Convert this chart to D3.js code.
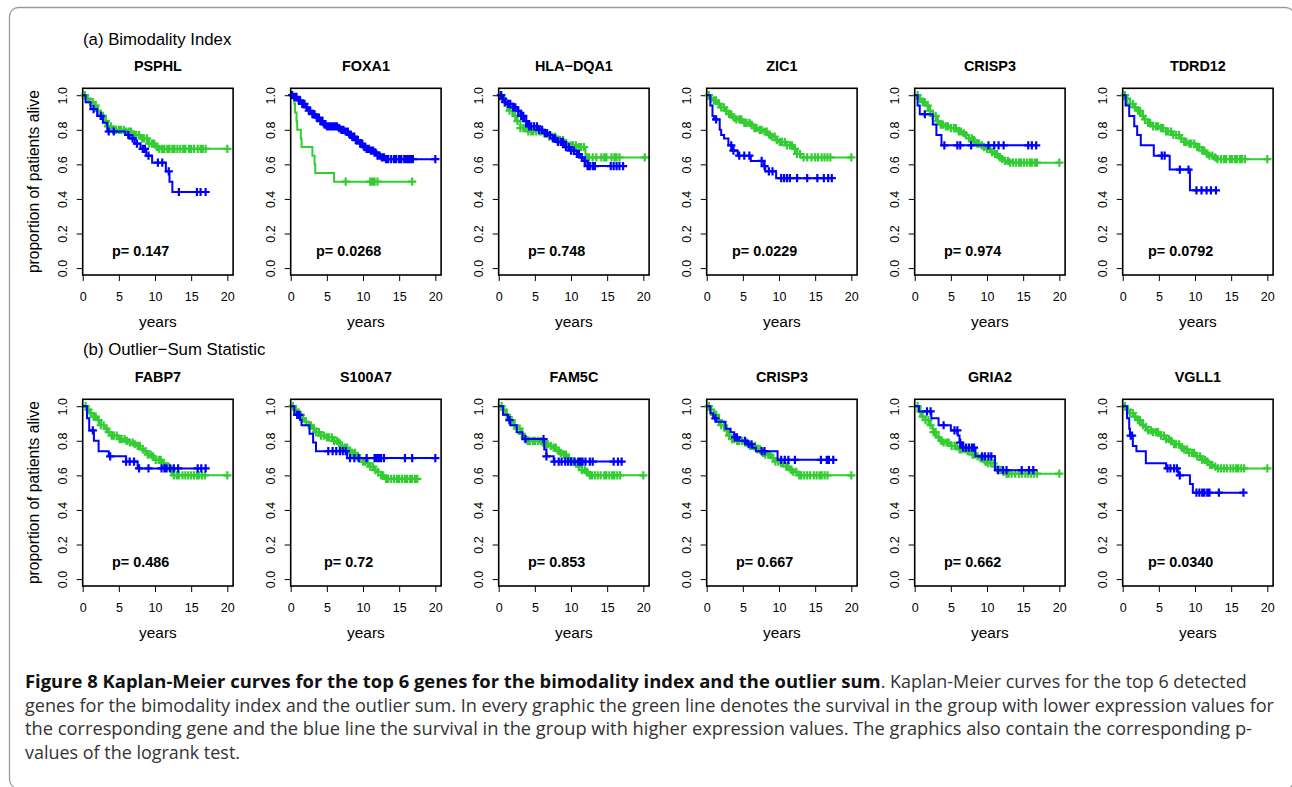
<!DOCTYPE html>
<html>
<head>
<meta charset="utf-8">
<script src="https://cdn.jsdelivr.net/npm/d3@7"></script>
<style>
  body { margin: 0; background: #fff; }
  svg text { font-family: "Liberation Sans", Arial, Helvetica, sans-serif; }
  .caption { font-family: "Open Sans", "Noto Sans", sans-serif !important; }
</style>
</head>
<body>
<div id="chart"></div>
<script>
// ---- labels ----
const genesA = ["PSPHL", "FOXA1", "HLA\u2212DQA1", "ZIC1", "CRISP3", "TDRD12"];
const genesB = ["FABP7", "S100A7", "FAM5C", "CRISP3", "GRIA2", "VGLL1"];
const pvalsA = ["0.147", "0.0268", "0.748", "0.0229", "0.974", "0.0792"];
const pvalsB = ["0.486", "0.72", "0.853", "0.667", "0.662", "0.0340"];
const xTicks = [0, 5, 10, 15, 20];
const yTicks = [0, 0.2, 0.4, 0.6, 0.8, 1.0];

// ---- survival curves: steps = [time, survival after drop], cens = censoring times ----
// green = low expression group, blue = high expression group
const psphlLow = {
  steps: [[0.5,0.98],[1,0.96],[1.5,0.94],[2,0.91],[2.5,0.88],[3,0.85],[3.5,0.82],[4,0.80],[6,0.79],[7,0.77],[8,0.75],[9,0.72],[10,0.70],[10.5,0.69]],
  cens: [0.3,0.7,1.0,1.4,1.8,2.1,2.5,2.8,3.2,3.5,3.9,4.2,4.6,5.0,5.3,5.7,6.0,6.4,6.7,7.1,7.4,7.8,8.2,8.5,8.9,9.2,9.6,9.9,10.3,10.6,11.0,11.3,11.7,12.0,12.4,12.7,13.1,13.5,13.9,14.2,14.7,15.0,15.4,15.9,16.3,16.6,17.0,20.0]
};
const psphlHigh = {
  steps: [[0.4,0.96],[1.1,0.92],[2.0,0.88],[2.8,0.84],[3.4,0.79],[5.9,0.77],[6.5,0.75],[7.2,0.72],[8.0,0.69],[8.8,0.65],[9.6,0.61],[11.5,0.56],[12.0,0.50],[12.4,0.44]],
  cens: [1.5,2.5,3.6,4.3,6.3,6.9,7.5,8.3,8.6,9.1,10.4,11.0,11.9,13.3,15.8,16.3,17.0]
};
const foxa1Low = {
  steps: [[0.5,0.95],[0.6,0.90],[0.8,0.85],[0.9,0.80],[1.4,0.75],[1.5,0.70],[3.0,0.65],[3.3,0.60],[3.4,0.55],[6.0,0.50]],
  cens: [7.6,11.0,11.3,11.6,12.0,16.8]
};
const foxa1High = {
  steps: [[0.5,0.99],[1,0.97],[1.5,0.95],[2,0.93],[2.5,0.91],[3,0.89],[3.5,0.87],[4,0.85],[4.5,0.83],[5,0.82],[6.5,0.81],[7,0.80],[7.5,0.79],[8,0.77],[8.5,0.76],[9,0.74],[9.5,0.72],[10,0.70],[10.5,0.69],[11,0.68],[11.5,0.67],[12,0.65],[12.5,0.64],[13,0.63]],
  cens: [0.2,0.5,0.8,1.1,1.3,1.6,1.9,2.2,2.5,2.7,3.0,3.3,3.6,3.9,4.1,4.4,4.7,5.0,5.3,5.6,5.9,6.2,6.4,6.7,7.0,7.3,7.6,7.9,8.2,8.5,8.8,9.0,9.3,9.6,9.9,10.2,10.5,10.8,11.1,11.4,11.7,12.0,12.3,12.6,12.9,13.2,13.5,13.9,14.3,14.6,15.0,15.3,15.7,16.0,16.3,16.6,16.9,20.0]
};
const hlaLow = {
  steps: [[0.5,0.97],[1,0.94],[1.5,0.91],[2,0.88],[2.5,0.85],[3,0.81],[4,0.79],[6,0.78],[7,0.76],[8,0.74],[9,0.72],[9.5,0.71],[11,0.70],[12,0.64]],
  cens: [0.4,0.8,1.2,1.5,1.9,2.3,2.6,3.0,3.4,3.7,4.1,4.5,4.8,5.2,5.6,5.9,6.3,6.7,7.0,7.4,7.8,8.1,8.5,8.9,9.2,9.6,10.0,10.3,10.7,11.1,11.4,11.8,12.2,12.5,13.0,13.5,14.2,14.6,14.9,15.6,16.0,16.3,16.7,20.2]
};
const hlaHigh = {
  steps: [[0.4,0.98],[0.8,0.96],[1.2,0.95],[2,0.93],[2.6,0.91],[3,0.88],[3.5,0.85],[4,0.82],[5.5,0.80],[6.2,0.78],[6.8,0.77],[7.5,0.75],[8,0.73],[9,0.70],[10,0.68],[10.8,0.66],[11.2,0.64],[11.6,0.62],[12,0.59]],
  cens: [0.3,0.6,0.9,1.3,1.6,2.0,2.3,2.7,3.1,3.4,3.8,4.2,4.5,4.9,5.3,5.6,6.0,6.4,6.7,7.1,7.5,7.8,8.2,8.6,8.9,9.3,9.7,10.0,10.4,10.8,11.1,11.5,11.9,12.3,12.6,13.0,13.3,15.5,15.9,16.3,16.7,17.2]
};
const zic1Low = {
  steps: [[0.5,0.98],[1,0.97],[1.5,0.95],[2,0.93],[2.5,0.91],[3,0.89],[3.5,0.87],[4,0.86],[5,0.84],[6,0.83],[6.5,0.81],[7,0.80],[8,0.79],[8.5,0.77],[9,0.76],[9.5,0.74],[10,0.73],[11,0.71],[12,0.69],[12.5,0.66],[13,0.64]],
  cens: [0.3,0.6,1.0,1.3,1.7,2.0,2.4,2.7,3.1,3.4,3.8,4.1,4.5,4.8,5.2,5.5,5.9,6.2,6.6,6.9,7.3,7.6,8.0,8.3,8.7,9.0,9.4,9.7,10.1,10.4,10.8,11.1,11.5,11.8,12.2,12.5,12.9,13.4,13.9,14.5,15.0,15.4,15.9,16.3,16.7,17.1,20.0]
};
const zic1High = {
  steps: [[0.5,0.94],[0.8,0.88],[1.0,0.86],[1.8,0.80],[2.0,0.77],[2.4,0.75],[3.0,0.71],[3.5,0.68],[4.3,0.65],[6.1,0.62],[7.9,0.59],[8.1,0.56],[9.6,0.52]],
  cens: [1.3,3.4,3.7,4.5,5.2,5.9,7.6,8.0,8.6,9.1,10.3,10.7,11.1,11.5,12.5,13.9,15.3,16.2,16.8,17.3]
};
const crisp3aLow = {
  steps: [[0.5,0.98],[1,0.96],[1.5,0.94],[2,0.91],[2.5,0.88],[3,0.85],[3.5,0.83],[4,0.82],[5,0.81],[6,0.79],[6.5,0.78],[7,0.77],[7.5,0.75],[8,0.74],[8.5,0.72],[9,0.71],[9.5,0.70],[10,0.69],[10.5,0.67],[11,0.66],[11.5,0.64],[12,0.63],[12.5,0.62],[13,0.61]],
  cens: [0.4,0.7,1.1,1.4,1.8,2.1,2.5,2.9,3.2,3.6,3.9,4.3,4.6,5.0,5.4,5.7,6.1,6.4,6.8,7.1,7.5,7.9,8.2,8.6,8.9,9.3,9.6,10.0,10.4,10.7,11.1,11.4,11.8,12.1,12.5,12.9,13.2,13.6,14.0,14.4,14.7,15.1,15.5,15.9,16.2,16.6,16.9,20.0]
};
const crisp3aHigh = {
  steps: [[0.4,0.94],[0.7,0.89],[2.5,0.83],[3.0,0.77],[3.7,0.71]],
  cens: [1.4,4.1,5.9,6.3,7.8,10.2,11.0,11.6,12.3,15.7,16.2,16.8]
};
const tdrd12Low = {
  steps: [[0.5,0.98],[1,0.95],[1.5,0.93],[2,0.91],[2.5,0.88],[3,0.86],[3.5,0.84],[4,0.82],[5,0.81],[6,0.79],[7,0.77],[8,0.75],[8.5,0.73],[9,0.72],[10,0.70],[11,0.68],[11.5,0.66],[12,0.65],[12.5,0.64],[13,0.63]],
  cens: [0.3,0.6,1.0,1.4,1.7,2.1,2.4,2.8,3.1,3.5,3.8,4.2,4.6,4.9,5.3,5.6,6.0,6.3,6.7,7.0,7.4,7.8,8.1,8.5,8.8,9.2,9.5,9.9,10.3,10.6,11.0,11.3,11.7,12.0,12.4,12.8,13.1,13.6,14.0,14.3,14.8,15.1,15.5,15.8,16.2,16.5,16.9,20.0]
};
const tdrd12High = {
  steps: [[0.4,0.94],[0.9,0.88],[1.6,0.82],[2.0,0.77],[2.5,0.71],[4.3,0.65],[6.5,0.57],[9.3,0.45]],
  cens: [5.4,5.8,7.9,9.1,10.2,10.9,11.6,12.2,12.9]
};
const fabp7Low = {
  steps: [[0.5,0.98],[1,0.96],[1.5,0.94],[2,0.92],[2.5,0.89],[3,0.87],[3.5,0.85],[4,0.83],[5,0.81],[6,0.80],[6.5,0.79],[7,0.78],[7.5,0.77],[8,0.75],[8.5,0.74],[9,0.72],[9.5,0.71],[10,0.69],[11,0.67],[11.5,0.65],[12,0.63],[12.5,0.60]],
  cens: [0.4,0.8,1.1,1.5,1.8,2.2,2.5,2.9,3.3,3.6,4.0,4.3,4.7,5.1,5.4,5.8,6.1,6.5,6.9,7.2,7.6,7.9,8.3,8.7,9.0,9.4,9.7,10.1,10.5,10.8,11.2,11.5,11.9,12.3,12.6,13.0,13.3,13.8,14.2,14.6,15.0,15.4,15.8,16.1,16.5,16.9,20.0]
};
const fabp7High = {
  steps: [[0.6,0.93],[0.9,0.86],[1.55,0.80],[2.2,0.74],[3.6,0.71],[6.0,0.68],[7.6,0.64]],
  cens: [1.4,3.8,6.0,6.5,7.1,7.8,9.1,10.9,11.3,11.6,12.1,12.6,13.2,15.9,16.4,17.0]
};
const s100a7Low = {
  steps: [[0.5,0.98],[1,0.95],[1.5,0.93],[2,0.91],[2.5,0.89],[3,0.87],[3.5,0.85],[4,0.83],[5,0.82],[6,0.80],[6.5,0.79],[7,0.77],[7.5,0.76],[8,0.74],[8.5,0.73],[9,0.71],[9.5,0.70],[10,0.68],[10.5,0.67],[11,0.65],[11.5,0.63],[12,0.62],[12.5,0.60],[13,0.58]],
  cens: [0.3,0.7,1.0,1.4,1.7,2.1,2.5,2.8,3.2,3.5,3.9,4.2,4.6,5.0,5.3,5.7,6.0,6.4,6.7,7.1,7.5,7.8,8.2,8.5,8.9,9.2,9.6,10.0,10.3,10.7,11.0,11.4,11.7,12.1,12.5,12.8,13.2,13.5,13.9,14.3,14.7,15.0,15.4,15.8,16.1,16.5,16.8,17.2,17.5]
};
const s100a7High = {
  steps: [[0.5,0.95],[1.3,0.92],[1.5,0.89],[2.6,0.84],[3.1,0.79],[3.5,0.74],[7.8,0.70]],
  cens: [0.9,1.2,5.2,5.8,6.3,6.8,7.2,7.6,8.2,8.8,9.4,10.5,11.6,11.9,12.2,12.5,12.9,15.8,16.8,20.0]
};
const fam5cLow = {
  steps: [[0.5,0.98],[1,0.95],[1.5,0.92],[2,0.89],[2.5,0.87],[3,0.84],[3.5,0.82],[4,0.80],[6,0.79],[6.5,0.78],[7,0.77],[7.5,0.76],[8,0.74],[8.5,0.73],[9,0.72],[9.5,0.70],[10,0.68],[10.5,0.67],[11,0.65],[11.5,0.63],[12,0.62],[12.5,0.60]],
  cens: [0.4,0.7,1.1,1.5,1.8,2.2,2.5,2.9,3.2,3.6,4.0,4.3,4.7,5.0,5.4,5.8,6.1,6.5,6.8,7.2,7.6,7.9,8.3,8.6,9.0,9.3,9.7,10.1,10.4,10.8,11.1,11.5,11.9,12.2,12.6,12.9,13.3,13.7,14.1,14.6,14.9,15.3,15.7,16.0,16.4,16.8,20.0]
};
const fam5cHigh = {
  steps: [[0.6,0.95],[1.3,0.92],[1.6,0.89],[2.5,0.85],[3.3,0.81],[6.3,0.75],[6.6,0.71],[7.6,0.68]],
  cens: [1.5,3.7,6.2,6.6,7.7,8.3,8.7,9.2,9.6,10.0,10.5,11.0,11.3,11.6,12.0,12.6,13.0,15.9,16.5,17.0]
};
const crisp3bLow = {
  steps: [[0.5,0.98],[1,0.95],[1.5,0.92],[2,0.89],[2.5,0.86],[3,0.83],[3.5,0.81],[4,0.80],[5,0.79],[6,0.77],[7,0.75],[7.5,0.73],[8,0.72],[9,0.70],[9.5,0.68],[10,0.67],[11,0.65],[11.5,0.63],[12,0.62],[12.5,0.60]],
  cens: [0.3,0.6,1.0,1.3,1.7,2.0,2.4,2.8,3.1,3.5,3.8,4.2,4.5,4.9,5.3,5.6,6.0,6.3,6.7,7.0,7.4,7.8,8.1,8.5,8.8,9.2,9.5,9.9,10.3,10.6,11.0,11.3,11.7,12.0,12.4,12.8,13.1,13.5,13.9,14.3,14.8,15.2,15.6,15.9,16.3,16.7,20.0]
};
const crisp3bHigh = {
  steps: [[0.5,0.96],[0.9,0.93],[1.3,0.91],[2.6,0.87],[3.3,0.85],[3.8,0.82],[4.5,0.80],[5.5,0.78],[6.3,0.76],[6.8,0.74],[9.8,0.69]],
  cens: [1.2,3.9,4.2,5.3,5.8,6.2,7.6,8.0,10.3,10.8,11.3,12.2,15.8,16.6,16.9,17.5]
};
const gria2Low = {
  steps: [[0.5,0.97],[1,0.94],[1.5,0.92],[2,0.89],[2.5,0.85],[3,0.82],[3.5,0.80],[4,0.79],[5,0.77],[6,0.75],[7,0.74],[8,0.72],[8.5,0.71],[9,0.70],[9.5,0.68],[10,0.67],[11,0.65],[11.5,0.63],[12,0.62],[12.5,0.61]],
  cens: [0.4,0.8,1.1,1.5,1.9,2.2,2.6,2.9,3.3,3.7,4.0,4.4,4.7,5.1,5.5,5.8,6.2,6.5,6.9,7.3,7.6,8.0,8.3,8.7,9.1,9.4,9.8,10.1,10.5,10.9,11.2,11.6,11.9,12.3,12.7,13.0,13.4,13.9,14.4,14.8,15.3,15.7,16.1,16.5,16.9,20.0]
};
const gria2High = {
  steps: [[0.6,0.97],[2.3,0.93],[3.3,0.89],[5.0,0.86],[5.95,0.83],[6.2,0.79],[6.5,0.76],[8.4,0.71],[11.1,0.63]],
  cens: [1.7,2.2,4.0,5.5,5.9,6.3,6.7,7.1,7.5,7.9,8.2,9.3,9.7,10.2,10.6,11.5,12.2,12.7,14.8,15.8,16.4]
};
const vgll1Low = {
  steps: [[0.5,0.98],[1,0.96],[1.5,0.94],[2,0.92],[2.5,0.89],[3,0.88],[3.5,0.86],[4,0.85],[5,0.83],[6,0.81],[6.5,0.80],[7,0.78],[8,0.76],[8.5,0.75],[9,0.73],[10,0.71],[11,0.69],[11.5,0.68],[12,0.66],[12.5,0.65],[13,0.64]],
  cens: [0.3,0.7,1.0,1.4,1.7,2.1,2.4,2.8,3.2,3.5,3.9,4.2,4.6,4.9,5.3,5.7,6.0,6.4,6.7,7.1,7.4,7.8,8.2,8.5,8.9,9.2,9.6,9.9,10.3,10.7,11.0,11.4,11.7,12.1,12.4,12.8,13.2,13.6,14.0,14.4,14.9,15.3,15.7,16.0,16.4,16.8,20.0]
};
const vgll1High = {
  steps: [[0.6,0.93],[0.9,0.87],[1.0,0.83],[1.4,0.77],[1.9,0.74],[3.2,0.67],[6.0,0.64],[7.7,0.60],[9.3,0.55],[9.7,0.50]],
  cens: [1.1,1.3,6.2,6.6,7.1,7.5,7.9,10.2,10.6,11.0,11.3,11.7,12.0,13.3,16.7]
};

const lowA = [psphlLow, foxa1Low, hlaLow, zic1Low, crisp3aLow, tdrd12Low];
const highA = [psphlHigh, foxa1High, hlaHigh, zic1High, crisp3aHigh, tdrd12High];
const lowB = [fabp7Low, s100a7Low, fam5cLow, crisp3bLow, gria2Low, vgll1Low];
const highB = [fabp7High, s100a7High, fam5cHigh, crisp3bHigh, gria2High, vgll1High];

const captionLines = [
  "genes for the bimodality index and the outlier sum. In every graphic the green line denotes the survival in the group with lower expression values for",
  "the corresponding gene and the blue line the survival in the group with higher expression values. The graphics also contain the corresponding p-",
  "values of the logrank test."
];

// ---- layout ----
const W = 1292, H = 787;
const boxW = 150.4, boxH = 186.7;
const colLeft = i => 82.7 + 208 * i;
const rowTop = [88.3, 399.3];
const GREEN = "#32cd32", BLUE = "#0000ff";

const svg = d3.select("#chart").append("svg")
  .attr("width", W).attr("height", H);

// figure frame
svg.append("rect")
  .attr("x", 9.5).attr("y", 7.5)
  .attr("width", 1285).attr("height", 781)
  .attr("rx", 9)
  .attr("fill", "none").attr("stroke", "#9a9a9a").attr("stroke-width", 1.3);

const x = d3.scaleLinear().domain([0, 20.8]).range([0, boxW]);
const y = d3.scaleLinear().domain([-0.04, 1.04]).range([boxH, 0]);

function survAt(curve, t) {
  let s = 1;
  curve.steps.forEach(d => { if (d[0] <= t) s = d[1]; });
  return s;
}

function drawCurve(g, curve, color) {
  const end = Math.max(d3.max(curve.cens), curve.steps[curve.steps.length - 1][0]);
  const pts = [[0, 1], ...curve.steps, [end, curve.steps[curve.steps.length - 1][1]]];
  g.append("path")
    .attr("d", d3.line().x(d => x(d[0])).y(d => y(d[1])).curve(d3.curveStepAfter)(pts))
    .attr("fill", "none").attr("stroke", color).attr("stroke-width", 2);
  const h = 4.1;
  g.append("path")
    .attr("d", curve.cens.map(c => {
      const cx = x(c), cy = y(survAt(curve, c));
      return `M${cx - h},${cy}h${2 * h}M${cx},${cy - h}v${2 * h}`;
    }).join(""))
    .attr("fill", "none").attr("stroke", color).attr("stroke-width", 2.2);
}

function drawPanel(col, row, gene, p, low, high) {
  const g = svg.append("g")
    .attr("transform", `translate(${colLeft(col)},${rowTop[row]})`);

  const ax = g.append("g").attr("transform", `translate(0,${boxH})`)
    .call(d3.axisBottom(x).tickValues(xTicks).tickSize(6).tickFormat(d3.format("d")));
  ax.select(".domain").remove();
  ax.selectAll("text").attr("y", 25.5).attr("dy", null)
    .attr("font-size", "12.5px").attr("fill", "#000");

  const ay = g.append("g")
    .call(d3.axisLeft(y).tickValues(yTicks).tickSize(6).tickFormat(d3.format(".1f")));
  ay.select(".domain").remove();
  ay.selectAll("text")
    .attr("transform", "rotate(-90)")
    .attr("x", 0).attr("y", -16).attr("dy", null)
    .attr("text-anchor", "middle")
    .attr("font-size", "12.5px").attr("fill", "#000");

  drawCurve(g, low, GREEN);
  drawCurve(g, high, BLUE);

  g.append("rect")
    .attr("width", boxW).attr("height", boxH)
    .attr("fill", "none").attr("stroke", "#000").attr("stroke-width", 1.6);

  g.append("text")
    .attr("x", boxW / 2).attr("y", -17)
    .attr("text-anchor", "middle")
    .attr("font-size", "14.4px").attr("font-weight", "bold")
    .text(gene);

  g.append("text")
    .attr("x", x(8)).attr("y", y(0.1) + 5.2)
    .attr("text-anchor", "middle")
    .attr("font-size", "14.4px").attr("font-weight", "bold")
    .text("p= " + p);

  g.append("text")
    .attr("x", boxW / 2).attr("y", boxH + 52)
    .attr("text-anchor", "middle")
    .attr("font-size", "15.4px")
    .text("years");

  if (col === 0) {
    g.append("text")
      .attr("transform", `translate(-43.2,${boxH / 2}) rotate(-90)`)
      .attr("text-anchor", "middle")
      .attr("font-size", "15.6px")
      .text("proportion of patients alive");
  }
}

genesA.forEach((gname, i) => drawPanel(i, 0, gname, pvalsA[i], lowA[i], highA[i]));
genesB.forEach((gname, i) => drawPanel(i, 1, gname, pvalsB[i], lowB[i], highB[i]));

svg.append("text").attr("x", 83).attr("y", 45)
  .attr("font-size", "16.8px").text("(a) Bimodality Index");
svg.append("text").attr("x", 83).attr("y", 355)
  .attr("font-size", "16.8px").text("(b) Outlier\u2212Sum Statistic");

// ---- caption ----
const cap = svg.append("g");
cap.append("text").attr("class", "caption")
  .attr("x", 25).attr("y", 688)
  .attr("font-size", "17.5px").attr("font-weight", "bold").attr("fill", "#111")
  .attr("textLength", 855.7).attr("lengthAdjust", "spacingAndGlyphs")
  .text("Figure 8 Kaplan-Meier curves for the top 6 genes for the bimodality index and the outlier sum");
cap.append("text").attr("class", "caption")
  .attr("x", 880.7).attr("y", 688)
  .attr("font-size", "17.5px").attr("fill", "#333")
  .attr("textLength", 366).attr("lengthAdjust", "spacingAndGlyphs")
  .text(". Kaplan-Meier curves for the top 6 detected");
const capEnds = [1274, 1252, 240];
const capBase = [711.5, 735, 758.5];
captionLines.forEach((line, i) => {
  cap.append("text").attr("class", "caption")
    .attr("x", 25).attr("y", capBase[i])
    .attr("font-size", "17.5px").attr("fill", "#333")
    .attr("textLength", capEnds[i] - 25).attr("lengthAdjust", "spacingAndGlyphs")
    .text(line);
});
</script>
</body>
</html>
